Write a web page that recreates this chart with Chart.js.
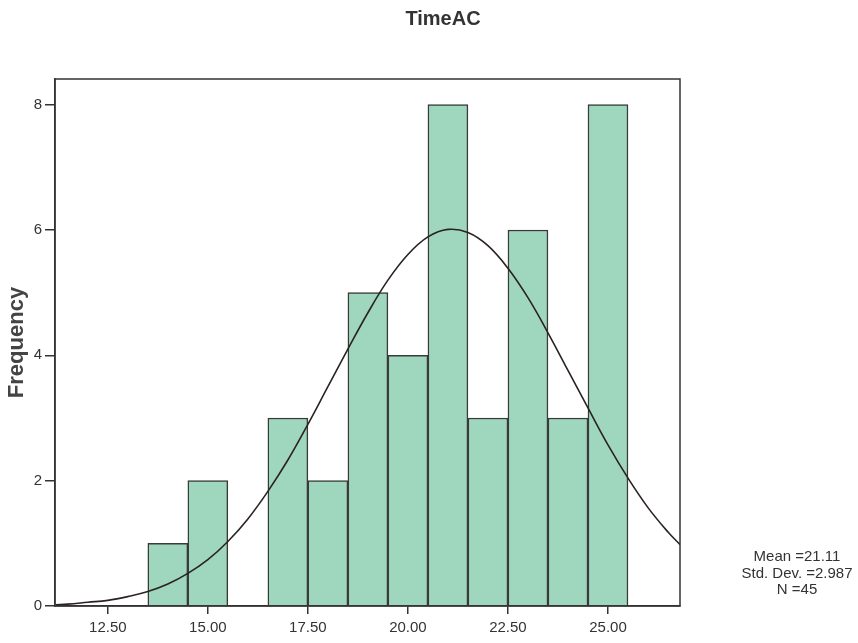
<!DOCTYPE html>
<html>
<head>
<meta charset="utf-8">
<script src="https://cdn.jsdelivr.net/npm/chart.js@4/dist/chart.umd.min.js"></script>
<style>
  body { margin: 0; background: #fff; }
  #wrap { width: 858px; height: 643px; position: relative; }
</style>
</head>
<body>
<div id="wrap"><canvas id="histChart"></canvas></div>
<script>
// bin centres (width 1) and frequencies
const binCenters = [14, 15, 16, 17, 18, 19, 20, 21, 22, 23, 24, 25];
const frequencies = [1, 2, 0, 3, 2, 5, 4, 8, 3, 6, 3, 8];

// normal curve as it is drawn over the bars
const curveX = [11.2, 11.5, 12, 12.5, 13, 13.5, 14, 14.5, 15, 15.5, 16, 16.5, 17, 17.5, 18, 18.5,
                19, 19.5, 20, 20.5, 21, 21.5, 22, 22.5, 23, 23.5, 24, 24.5, 25, 25.5, 26, 26.5, 26.8];
const curveY = [0.02, 0.03, 0.06, 0.09, 0.15, 0.23, 0.35, 0.52, 0.74, 1.03, 1.39, 1.83, 2.33, 2.90, 3.50, 4.10,
                4.68, 5.20, 5.61, 5.89, 6.01, 5.96, 5.75, 5.39, 4.92, 4.36, 3.76, 3.16, 2.57, 2.04, 1.57, 1.18, 0.98];

const xTicks = [12.5, 15, 17.5, 20, 22.5, 25];
const yTicks = [0, 2, 4, 6, 8];

const chartTitle = "TimeAC";
const statsLines = ["Mean =21.11", "Std. Dev. =2.987", "N =45"];

const fontFamily = "'Liberation Sans', Arial, sans-serif";

// frame + title + stats text
const decorations = {
  id: "decorations",
  afterDraw(chart) {
    const ctx = chart.ctx;
    const a = chart.chartArea;
    ctx.save();
    ctx.strokeStyle = "#333";
    ctx.lineWidth = 1.5;
    ctx.strokeRect(a.left, a.top, a.right - a.left, a.bottom - a.top);

    ctx.fillStyle = "#333";
    ctx.textAlign = "center";
    ctx.textBaseline = "middle";
    ctx.font = "bold 20px " + fontFamily;
    ctx.fillText(chartTitle, 443, 19);

    ctx.fillStyle = "#333";
    ctx.font = "15px " + fontFamily;
    statsLines.forEach((t, i) => ctx.fillText(t, 797, 557 + i * 16.5));
    ctx.restore();
  }
};

const ctx = document.getElementById("histChart").getContext("2d");
const histChart = new Chart(ctx, {
  type: "bar",
  data: {
    datasets: [
      {
        type: "line",
        label: "Normal",
        data: curveX.map((x, i) => ({ x: x, y: curveY[i] })),
        borderColor: "#2b2222",
        borderWidth: 1.6,
        pointRadius: 0,
        tension: 0.4,
        fill: false,
        order: 0
      },
      {
        type: "bar",
        label: "Frequency",
        data: binCenters.map((x, i) => ({ x: x, y: frequencies[i] })),
        backgroundColor: "#9fd7be",
        borderColor: "#3a3a3a",
        borderWidth: 1.5,
        barPercentage: 1,
        categoryPercentage: 1,
        grouped: false,
        order: 1
      }
    ]
  },
  options: {
    responsive: true,
    maintainAspectRatio: false,
    animation: false,
    layout: { padding: { left: 0, right: 178, top: 79, bottom: 0 } },
    plugins: {
      legend: { display: false },
      tooltip: { enabled: false }
    },
    scales: {
      x: {
        type: "linear",
        min: 11.18,
        max: 26.8,
        offset: false,
        afterFit: (s) => { s.height = 37; },
        afterBuildTicks: (s) => { s.ticks = xTicks.map(v => ({ value: v })); },
        ticks: {
          callback: (v) => Number(v).toFixed(2),
          color: "#333",
          font: { family: fontFamily, size: 15 },
          padding: 5,
          maxRotation: 0
        },
        grid: { offset: false, drawOnChartArea: false, drawTicks: true, tickLength: 8, color: "#333", lineWidth: 1.5 },
        border: { display: true, color: "#333", width: 1.5 }
      },
      y: {
        min: 0,
        max: 8.41,
        afterFit: (s) => { s.width = 55; },
        afterBuildTicks: (s) => { s.ticks = yTicks.map(v => ({ value: v })); },
        ticks: {
          color: "#333",
          font: { family: fontFamily, size: 15 },
          padding: 3
        },
        grid: { drawOnChartArea: false, drawTicks: true, tickLength: 10, color: "#333", lineWidth: 1.5 },
        border: { display: true, color: "#333", width: 1.5 },
        title: {
          display: true,
          text: "Frequency",
          color: "#444",
          font: { family: fontFamily, size: 22, weight: "bold" },
          padding: { top: 4, bottom: 0 }
        }
      }
    }
  },
  plugins: [decorations]
});
</script>
</body>
</html>
